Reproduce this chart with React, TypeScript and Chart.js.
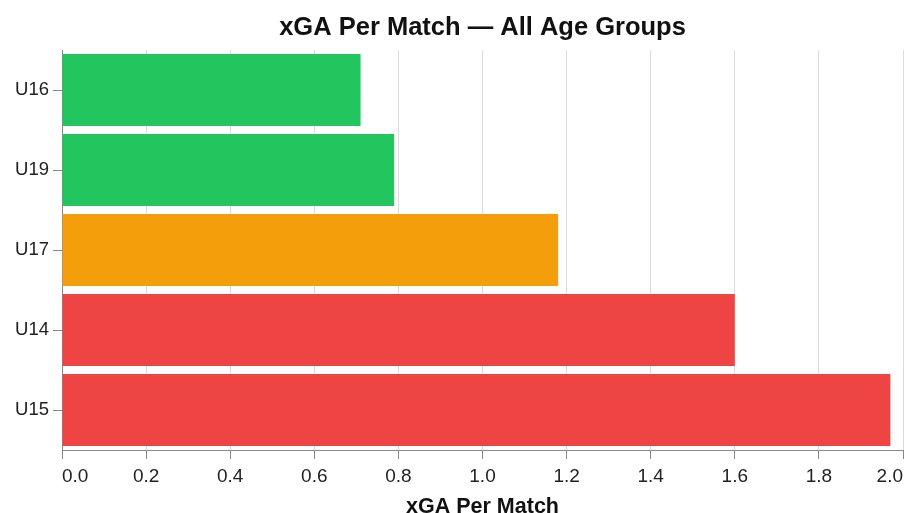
import React, { useEffect, useRef } from "react";
import { Chart, registerables } from "chart.js";

Chart.register(...registerables);

const categories = ["U16", "U19", "U17", "U14", "U15"];
const xgaPerMatch = [0.71, 0.79, 1.18, 1.6, 1.97];
const barColors = ["#22c55e", "#22c55e", "#f59e0b", "#ef4444", "#ef4444"];
const xTicks = [0, 0.2, 0.4, 0.6, 0.8, 1.0, 1.2, 1.4, 1.6, 1.8, 2.0];
const chartTitle = "xGA Per Match — All Age Groups";

const FONT = "'Liberation Sans', Helvetica, Arial, sans-serif";

const areaTitlePlugin = {
  id: "areaTitle",
  afterDraw(chart: any) {
    const { ctx, chartArea } = chart;
    ctx.save();
    ctx.fillStyle = "#111";
    ctx.font = `bold 25.5px ${FONT}`;
    ctx.textAlign = "center";
    ctx.textBaseline = "middle";
    ctx.fillText(chartTitle, (chartArea.left + chartArea.right) / 2, 28);
    ctx.restore();
  },
};

export default function App() {
  const ref = useRef<HTMLCanvasElement | null>(null);

  useEffect(() => {
    if (!ref.current) return;
    const chart = new Chart(ref.current, {
      type: "bar",
      data: {
        labels: categories,
        datasets: [
          {
            data: xgaPerMatch,
            backgroundColor: barColors,
            borderWidth: 0,
            barPercentage: 0.9,
            categoryPercentage: 1,
          },
        ],
      },
      plugins: [areaTitlePlugin],
      options: {
        indexAxis: "y",
        responsive: false,
        animation: false,
        layout: { padding: { top: 50, right: 4, bottom: 0, left: 0 } },
        plugins: {
          legend: { display: false },
          tooltip: { enabled: false },
          title: { display: false },
        },
        scales: {
          x: {
            type: "linear",
            min: 0,
            max: 2,
            afterBuildTicks: (scale: any) => {
              scale.ticks = xTicks.map((v) => ({ value: v }));
            },
            afterFit: (scale: any) => {
              scale.height = 63;
              scale.paddingLeft = 0;
              scale.paddingRight = 0;
            },
            grid: {
              color: "#dddddd",
              tickColor: "#888888",
              tickLength: 9,
              lineWidth: 1,
            },
            border: { display: true, color: "#888888", width: 1 },
            ticks: {
              color: "#222",
              padding: 6,
              align: "inner",
              font: { family: FONT, size: 19 },
              callback: (v: any) => Number(v).toFixed(1),
              maxRotation: 0,
              autoSkip: false,
            },
            title: {
              display: true,
              text: "xGA Per Match",
              color: "#111",
              font: { family: FONT, size: 21.5, weight: "bold", lineHeight: 1 },
              padding: { top: 0, bottom: -5 },
            },
          },
          y: {
            type: "category",
            afterFit: (scale: any) => {
              scale.width = 62;
            },
            grid: {
              drawOnChartArea: false,
              drawTicks: true,
              offset: false,
              tickLength: 9,
              color: "#888888",
            },
            border: { display: true, color: "#888888", width: 1 },
            ticks: {
              color: "#222",
              padding: 4,
              font: { family: FONT, size: 18.5 },
            },
          },
        },
      },
    });
    return () => chart.destroy();
  }, []);

  return (
    <div style={{ position: "fixed", left: 0, top: 0, width: 907, height: 513, background: "#fff" }}>
      <canvas ref={ref} width={907} height={513} />
    </div>
  );
}
